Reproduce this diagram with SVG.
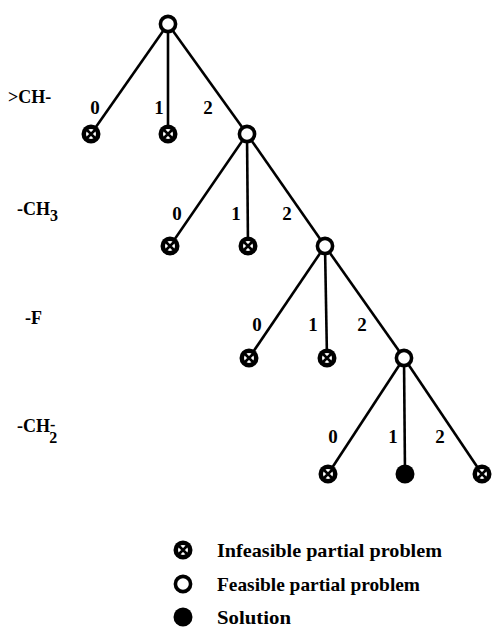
<svg xmlns="http://www.w3.org/2000/svg" width="492" height="628" viewBox="0 0 492 628">
<style>
.e{stroke:#000;stroke-width:2.6;fill:none}
.t{font-family:"Liberation Serif",serif;font-weight:bold;font-size:18px;fill:#000}
.lg{font-family:"Liberation Serif",serif;font-weight:bold;font-size:19px;fill:#000}
.n{font-family:"Liberation Serif",serif;font-weight:bold;font-size:19px;fill:#000;text-anchor:middle}
.fz{fill:#fff;stroke:#000;stroke-width:3.6}
.sol{fill:#000}
</style>
<defs>
<g id="inf">
<circle r="9.5" fill="#000"/>
<circle r="5" fill="#fff"/>
<path d="M-4.5,-4.5L4.5,4.5M-4.5,4.5L4.5,-4.5" stroke="#000" stroke-width="2.6"/>
</g>
<g id="fea"><circle r="7.6" class="fz"/></g>
<g id="sol"><circle r="9.5" class="sol"/></g>
</defs>
<rect width="492" height="628" fill="#fff"/>
<g id="connectors">
<line class="e" x1="168" y1="24" x2="91" y2="134"/>
<line class="e" x1="168" y1="24" x2="168" y2="134"/>
<line class="e" x1="168" y1="24" x2="247" y2="134"/>
<line class="e" x1="247" y1="134" x2="170" y2="246"/>
<line class="e" x1="247" y1="134" x2="248" y2="246"/>
<line class="e" x1="247" y1="134" x2="325" y2="246"/>
<line class="e" x1="325" y1="246" x2="249" y2="358"/>
<line class="e" x1="325" y1="246" x2="327" y2="358"/>
<line class="e" x1="325" y1="246" x2="404" y2="358"/>
<line class="e" x1="404" y1="358" x2="328" y2="474"/>
<line class="e" x1="404" y1="358" x2="405" y2="474"/>
<line class="e" x1="404" y1="358" x2="482" y2="474"/>
</g>
<g id="edge-labels">
<text class="n" x="95" y="114">0</text>
<text class="n" x="159" y="114">1</text>
<text class="n" x="208" y="114">2</text>
<text class="n" x="177" y="220">0</text>
<text class="n" x="236" y="220">1</text>
<text class="n" x="287" y="220">2</text>
<text class="n" x="257" y="331">0</text>
<text class="n" x="313" y="331">1</text>
<text class="n" x="362" y="331">2</text>
<text class="n" x="333" y="443">0</text>
<text class="n" x="393" y="443">1</text>
<text class="n" x="440" y="443">2</text>
</g>
<g id="level-labels">
<text class="t" x="8" y="103">&gt;CH-</text>
<text class="t" x="17" y="215">-CH<tspan font-size="16" dy="6">3</tspan></text>
<text class="t" x="25" y="324">-F</text>
<text class="t" x="17" y="432">-CH<tspan font-size="16" dy="-2">-</tspan><tspan font-size="16" dx="-6" dy="13">2</tspan></text>
</g>
<g id="root"><use href="#fea" x="168" y="24"/></g>
<g id="n1-0"><use href="#inf" x="91" y="134"/></g>
<g id="n1-1"><use href="#inf" x="168" y="134"/></g>
<g id="n1-2"><use href="#fea" x="247" y="134"/></g>
<g id="n2-0"><use href="#inf" x="170" y="246"/></g>
<g id="n2-1"><use href="#inf" x="248" y="246"/></g>
<g id="n2-2"><use href="#fea" x="325" y="246"/></g>
<g id="n3-0"><use href="#inf" x="249" y="358"/></g>
<g id="n3-1"><use href="#inf" x="327" y="358"/></g>
<g id="n3-2"><use href="#fea" x="404" y="358"/></g>
<g id="n4-0"><use href="#inf" x="328" y="474"/></g>
<g id="n4-1"><use href="#sol" x="405" y="474"/></g>
<g id="n4-2"><use href="#inf" x="482" y="474"/></g>
<g id="legend">
<use href="#inf" x="183" y="550"/>
<text class="lg" x="217" y="557" textLength="225" lengthAdjust="spacingAndGlyphs">Infeasible partial problem</text>
<use href="#fea" x="183" y="584"/>
<text class="lg" x="217" y="591" textLength="203" lengthAdjust="spacingAndGlyphs">Feasible partial problem</text>
<use href="#sol" x="183" y="617"/>
<text class="lg" x="217" y="624" textLength="74" lengthAdjust="spacingAndGlyphs">Solution</text>
</g>
</svg>
